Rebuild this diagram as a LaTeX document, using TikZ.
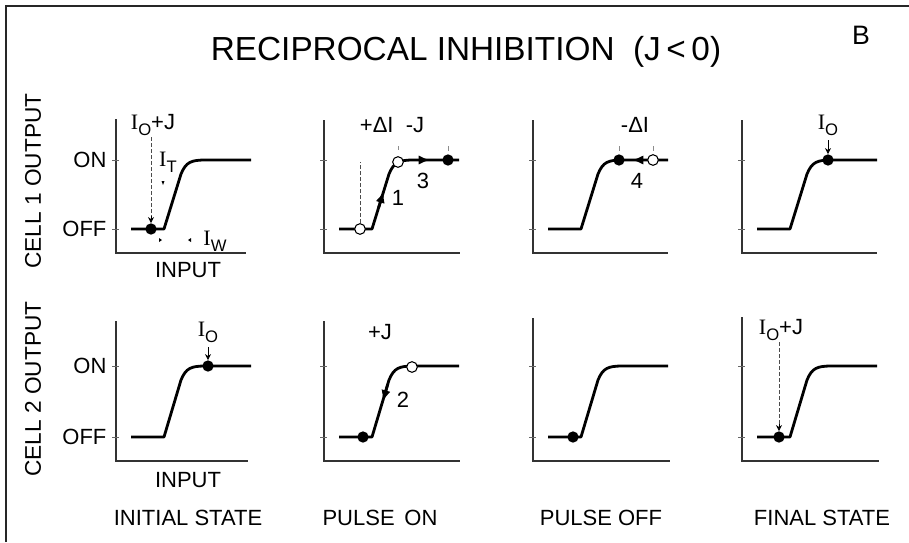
\documentclass[tikz,border=0pt]{standalone}
\usepackage{fontspec}
\setmainfont{Liberation Sans}
\newfontfamily\serifI{Liberation Serif}
\usetikzlibrary{arrows.meta}
\newcommand\Ii{{\serifI I}}
\newcommand\sbs[1]{\raisebox{-0.5ex}{\fontsize{12.5}{13}\selectfont #1}}
\newcommand\sigcurve[2]{\draw[curve] (15,#1) -- (48,#1) -- (65,#2+14) .. controls (70,#2+2) and (75,#2) .. (90,#2) -- (135,#2);}
\newcommand\axes[3]{\draw[axisline] (0,#1) -- (0,0) -- (#2,0);
  \draw[tickline] (-4,#3) -- (3,#3);}
\tikzset{
  axisline/.style={line width=1pt, black!80},
  tickline/.style={line width=0.6pt, black!60},
  curve/.style={line width=2.1pt, line join=round},
  fdot/.style={circle, fill=black, inner sep=0pt, minimum size=8.5pt},
  hdot/.style={circle, draw=black, fill=white, line width=0.8pt, inner sep=0pt, minimum size=8pt},
  lab/.style={font=\fontsize{16.5}{19}\selectfont, inner sep=1pt},
  num/.style={font=\fontsize{16.5}{18}\selectfont, inner sep=1pt},
  big/.style={font=\fontsize{16.5}{19}\selectfont, inner sep=1pt},
  guide/.style={line width=0.5pt, black!70, dash pattern=on 3pt off 1.5pt},
  tipline/.style={line width=2pt, -{Latex[length=8.5pt,width=7pt]}},
  smallarr/.style={line width=0.6pt, -{Stealth[length=4.5pt,width=4.5pt]}},
  faint/.style={line width=0.5pt, black!45},
}
\begin{document}
\begin{tikzpicture}[x=0.75pt, y=-0.75pt]
\useasboundingbox (0,0) rectangle (909,542);
% frame
\draw[line width=1.1pt, black!85] (6,542) -- (6,6) -- (909,6);
% title
\node[font=\fontsize{25}{30}\selectfont] (title) at (466,52) {RECIPROCAL INHIBITION \ (J\,<\,0)};
\node[font=\fontsize{20}{24}\selectfont] (letterB) at (861,35) {B};
% row labels
\node[rotate=90, font=\fontsize{17}{20}\selectfont] (cell1) at (33,181) {CELL 1 OUTPUT};
\node[rotate=90, font=\fontsize{17}{20}\selectfont] (cell2) at (33,389) {CELL 2 OUTPUT};
% bottom labels
\node[big] (s1) at (188,518) {INITIAL STATE};
\node[big] (s2) at (380,518) {PULSE \,ON};
\node[big] (s3) at (601,518) {PULSE OFF};
\node[big] (s4) at (822,518) {FINAL STATE};

% ===== Row 1, col 1 =====
\begin{scope}[shift={(116,253)}]
  \axes{-134}{130}{-24}
  \draw[tickline] (-4,-93) -- (3,-93);
  \sigcurve{-24}{-93}
  \node[fdot] (d11) at (35,-24) {};
  \node[lab] (l11) at (37,-128) {\Ii\sbs{O}+J};
  \draw[guide] (l11.south -| d11) -- ([yshift=4pt]d11.north);
  \draw[smallarr] ([yshift=5pt]d11.north) -- (d11.north);
  \node[lab] (it) at (52,-91) {\Ii\sbs{T}};
  \fill (45.5,-72) -- (48.5,-72) -- (47,-68) -- cycle;
  \fill (43,-15) -- (43,-11) -- (46,-13) -- cycle;
  \fill (75,-15) -- (75,-11) -- (72,-13) -- cycle;
  \node[lab] (iw) at (99,-12) {\Ii\sbs{W}};
  \node[lab, anchor=east] (on1) at (-8,-93) {ON};
  \node[lab, anchor=east] (off1) at (-8,-24) {OFF};
  \node[lab] (in1) at (72,17) {INPUT};
\end{scope}

% ===== Row 1, col 2 =====
\begin{scope}[shift={(324,253)}]
  \axes{-133}{136}{-24}
  \draw[tickline] (-4,-93) -- (3,-93);
  \sigcurve{-24}{-93}
  \node[hdot] (o12a) at (36,-24) {};
  \coordinate (g12) at (36,-91);
  \draw[guide] (o12a.north) -- (g12);
  \node[hdot] (o12b) at (74,-91) {};
  \node[fdot] (d12) at (124,-93) {};
  \draw[faint] (124,-107) -- (124,-102);
  \draw[faint] (74,-107) -- (74,-103);
  \coordinate (a12s) at (54.5,-45);
  \coordinate (a12e) at (59.6,-61.5);
  \path[draw, tipline] (a12s) -- (a12e);
  \coordinate (b12s) at (92,-93);
  \coordinate (b12e) at (106,-93);
  \path[draw, tipline] (b12s) -- (b12e);
  \node[num] (n1) at (74,-55) {1};
  \node[num] (n3) at (99,-72) {3};
  \node[lab] (l12) at (68,-128) {+ΔI \ -J};
\end{scope}

% ===== Row 1, col 3 =====
\begin{scope}[shift={(533,253)}]
  \axes{-133}{135}{-24}
  \draw[tickline] (-4,-93) -- (3,-93);
  \sigcurve{-24}{-93}
  \node[fdot] (d13) at (86,-93) {};
  \node[hdot] (o13) at (120,-93) {};
  \draw[faint] (86,-107) -- (86,-102);
  \draw[faint] (120,-107) -- (120,-102);
  \coordinate (a13s) at (113,-93);
  \coordinate (a13e) at (99,-93);
  \path[draw, tipline] (a13s) -- (a13e);
  \node[num] (n4) at (104,-72) {4};
  \node[lab] (l13) at (102,-128) {-ΔI};
\end{scope}

% ===== Row 1, col 4 =====
\begin{scope}[shift={(742,253)}]
  \axes{-133}{135}{-24}
  \draw[tickline] (-4,-93) -- (3,-93);
  \sigcurve{-24}{-93}
  \node[fdot] (d14) at (86,-93) {};
  \node[lab] (l14) at (86,-128) {\Ii\sbs{O}};
  \draw[smallarr] (86,-113) -- (d14.north);
\end{scope}

% ===== Row 2, col 1 =====
\begin{scope}[shift={(116,461)}]
  \axes{-140}{132}{-24}
  \draw[tickline] (-4,-95) -- (3,-95);
  \sigcurve{-24}{-95}
  \node[fdot] (d21) at (92,-95) {};
  \node[lab] (l21) at (92,-129) {\Ii\sbs{O}};
  \draw[smallarr] (92,-114) -- (d21.north);
  \node[lab, anchor=east] (on2) at (-8,-95) {ON};
  \node[lab, anchor=east] (off2) at (-8,-24) {OFF};
  \node[lab] (in2) at (72,19) {INPUT};
\end{scope}

% ===== Row 2, col 2 =====
\begin{scope}[shift={(324,461)}]
  \axes{-140}{136}{-24}
  \draw[tickline] (-4,-95) -- (3,-95);
  \sigcurve{-24}{-95}
  \node[fdot] (d22) at (39,-24) {};
  \node[hdot] (o22) at (88,-94) {};
  \coordinate (a22s) at (63.8,-77);
  \coordinate (a22e) at (58.8,-59.5);
  \path[draw, tipline] (a22s) -- (a22e);
  \node[num] (n2) at (79,-61) {2};
  \node[lab] (l22) at (56,-129) {+J};
\end{scope}

% ===== Row 2, col 3 =====
\begin{scope}[shift={(533,461)}]
  \axes{-143}{137}{-24}
  \draw[tickline] (-4,-95) -- (3,-95);
  \sigcurve{-24}{-95}
  \node[fdot] (d23) at (40,-24) {};
\end{scope}

% ===== Row 2, col 4 =====
\begin{scope}[shift={(742,461)}]
  \axes{-144}{137}{-24}
  \draw[tickline] (-4,-95) -- (3,-95);
  \sigcurve{-24}{-95}
  \node[fdot] (d24) at (37,-24) {};
  \node[lab] (l24) at (39,-131) {\Ii\sbs{O}+J};
  \draw[guide] (l24.south -| d24) -- ([yshift=4pt]d24.north);
  \draw[smallarr] ([yshift=5pt]d24.north) -- (d24.north);
\end{scope}
\end{tikzpicture}
\end{document}
